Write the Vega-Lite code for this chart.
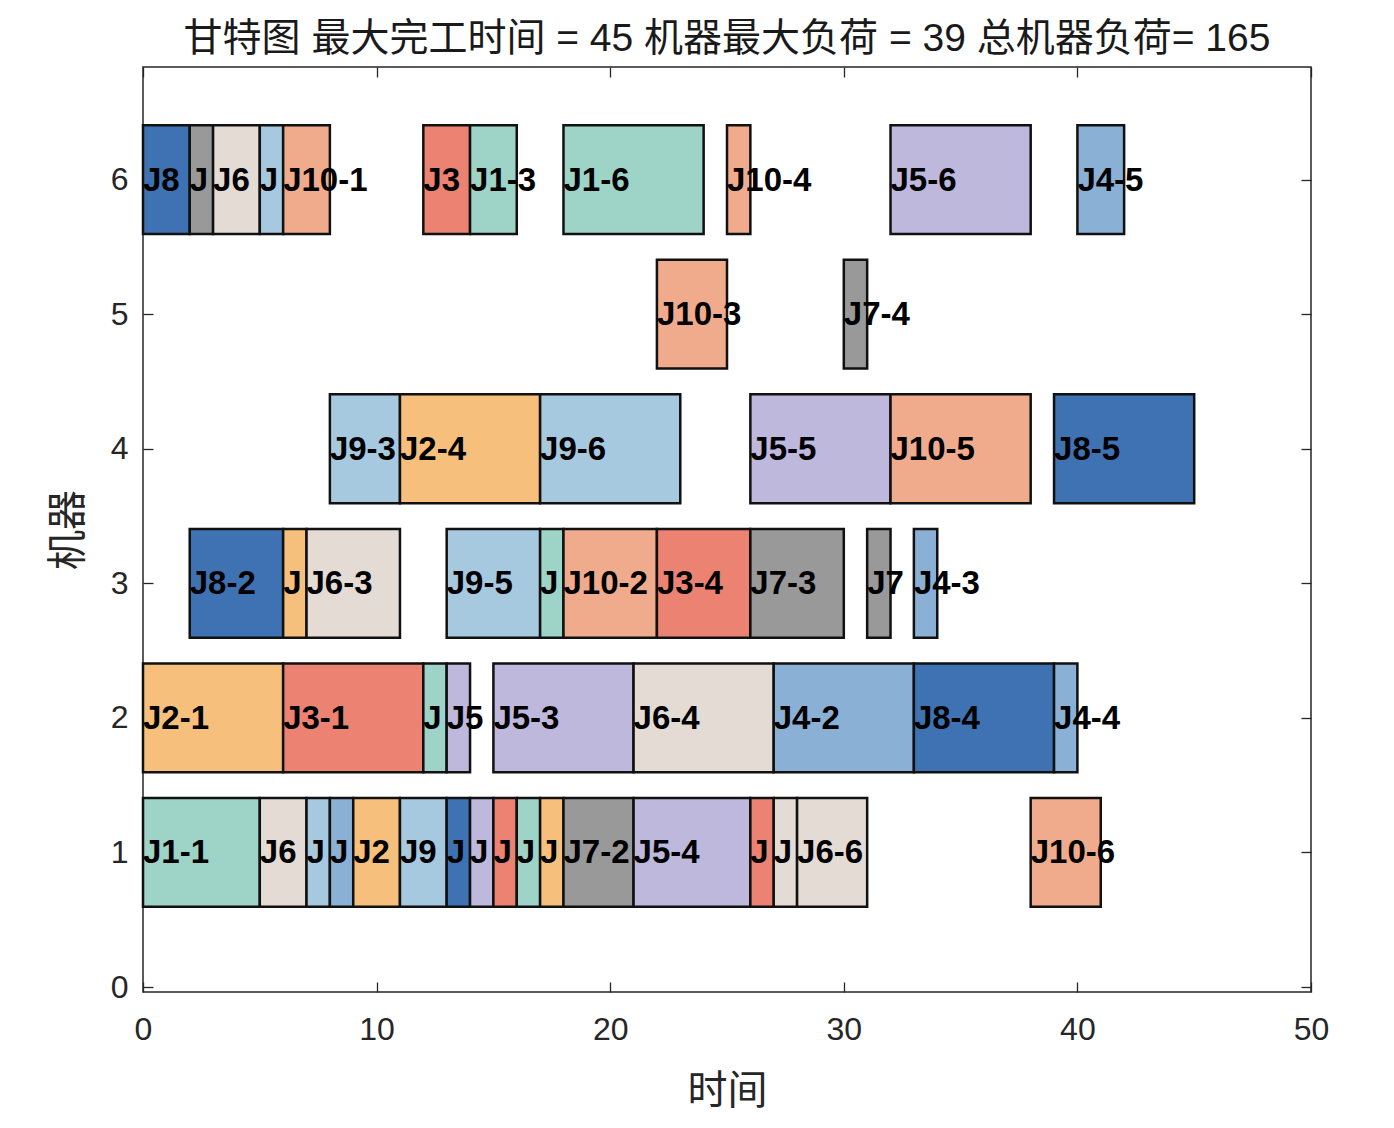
{
  "$schema": "https://vega.github.io/schema/vega-lite/v6.json",
  "autosize": {"type": "none"},
  "width": 1168,
  "height": 925,
  "padding": {"left": 143, "top": 67, "right": 83, "bottom": 136},
  "background": "white",
  "view": {"stroke": "#262626", "strokeWidth": 1.5},
  "title": {
    "text": "甘特图 最大完工时间 = 45 机器最大负荷 = 39 总机器负荷= 165",
    "font": "Liberation Sans, Noto Sans CJK SC",
    "fontSize": 39,
    "fontWeight": "normal",
    "color": "#1a1a1a",
    "anchor": "middle",
    "offset": 7
  },
  "data": {
    "values": [
      {"machine": 1, "start": 0, "end": 5, "job": "J1", "op": "J1-1"},
      {"machine": 1, "start": 5, "end": 7, "job": "J6", "op": "J6-2"},
      {"machine": 1, "start": 7, "end": 8, "job": "J9", "op": "J9-2"},
      {"machine": 1, "start": 8, "end": 9, "job": "J4", "op": "J4-1"},
      {"machine": 1, "start": 9, "end": 11, "job": "J2", "op": "J2-3"},
      {"machine": 1, "start": 11, "end": 13, "job": "J9", "op": "J9-4"},
      {"machine": 1, "start": 13, "end": 14, "job": "J8", "op": "J8-3"},
      {"machine": 1, "start": 14, "end": 15, "job": "J5", "op": "J5-2"},
      {"machine": 1, "start": 15, "end": 16, "job": "J3", "op": "J3-3"},
      {"machine": 1, "start": 16, "end": 17, "job": "J1", "op": "J1-4"},
      {"machine": 1, "start": 17, "end": 18, "job": "J2", "op": "J2-5"},
      {"machine": 1, "start": 18, "end": 21, "job": "J7", "op": "J7-2"},
      {"machine": 1, "start": 21, "end": 26, "job": "J5", "op": "J5-4"},
      {"machine": 1, "start": 26, "end": 27, "job": "J3", "op": "J3-5"},
      {"machine": 1, "start": 27, "end": 28, "job": "J6", "op": "J6-5"},
      {"machine": 1, "start": 28, "end": 31, "job": "J6", "op": "J6-6"},
      {"machine": 1, "start": 38, "end": 41, "job": "J10", "op": "J10-6"},
      {"machine": 2, "start": 0, "end": 6, "job": "J2", "op": "J2-1"},
      {"machine": 2, "start": 6, "end": 12, "job": "J3", "op": "J3-1"},
      {"machine": 2, "start": 12, "end": 13, "job": "J1", "op": "J1-2"},
      {"machine": 2, "start": 13, "end": 14, "job": "J5", "op": "J5-1"},
      {"machine": 2, "start": 15, "end": 21, "job": "J5", "op": "J5-3"},
      {"machine": 2, "start": 21, "end": 27, "job": "J6", "op": "J6-4"},
      {"machine": 2, "start": 27, "end": 33, "job": "J4", "op": "J4-2"},
      {"machine": 2, "start": 33, "end": 39, "job": "J8", "op": "J8-4"},
      {"machine": 2, "start": 39, "end": 40, "job": "J4", "op": "J4-4"},
      {"machine": 3, "start": 2, "end": 6, "job": "J8", "op": "J8-2"},
      {"machine": 3, "start": 6, "end": 7, "job": "J2", "op": "J2-2"},
      {"machine": 3, "start": 7, "end": 11, "job": "J6", "op": "J6-3"},
      {"machine": 3, "start": 13, "end": 17, "job": "J9", "op": "J9-5"},
      {"machine": 3, "start": 17, "end": 18, "job": "J1", "op": "J1-5"},
      {"machine": 3, "start": 18, "end": 22, "job": "J10", "op": "J10-2"},
      {"machine": 3, "start": 22, "end": 26, "job": "J3", "op": "J3-4"},
      {"machine": 3, "start": 26, "end": 30, "job": "J7", "op": "J7-3"},
      {"machine": 3, "start": 31, "end": 32, "job": "J7", "op": "J7-5"},
      {"machine": 3, "start": 33, "end": 34, "job": "J4", "op": "J4-3"},
      {"machine": 4, "start": 8, "end": 11, "job": "J9", "op": "J9-3"},
      {"machine": 4, "start": 11, "end": 17, "job": "J2", "op": "J2-4"},
      {"machine": 4, "start": 17, "end": 23, "job": "J9", "op": "J9-6"},
      {"machine": 4, "start": 26, "end": 32, "job": "J5", "op": "J5-5"},
      {"machine": 4, "start": 32, "end": 38, "job": "J10", "op": "J10-5"},
      {"machine": 4, "start": 39, "end": 45, "job": "J8", "op": "J8-5"},
      {"machine": 5, "start": 22, "end": 25, "job": "J10", "op": "J10-3"},
      {"machine": 5, "start": 30, "end": 31, "job": "J7", "op": "J7-4"},
      {"machine": 6, "start": 0, "end": 2, "job": "J8", "op": "J8-1"},
      {"machine": 6, "start": 2, "end": 3, "job": "J7", "op": "J7-1"},
      {"machine": 6, "start": 3, "end": 5, "job": "J6", "op": "J6-1"},
      {"machine": 6, "start": 5, "end": 6, "job": "J9", "op": "J9-1"},
      {"machine": 6, "start": 6, "end": 8, "job": "J10", "op": "J10-1"},
      {"machine": 6, "start": 12, "end": 14, "job": "J3", "op": "J3-2"},
      {"machine": 6, "start": 14, "end": 16, "job": "J1", "op": "J1-3"},
      {"machine": 6, "start": 18, "end": 24, "job": "J1", "op": "J1-6"},
      {"machine": 6, "start": 25, "end": 26, "job": "J10", "op": "J10-4"},
      {"machine": 6, "start": 32, "end": 38, "job": "J5", "op": "J5-6"},
      {"machine": 6, "start": 40, "end": 42, "job": "J4", "op": "J4-5"}
    ]
  },
  "transform": [
    {
      "window": [{"op": "lead", "field": "start", "as": "next_start"}],
      "groupby": ["machine"],
      "sort": [{"field": "start", "order": "ascending"}]
    }
  ],
  "resolve": {"axis": {"x": "independent", "y": "independent"}},
  "layer": [
    {
      "mark": {"type": "bar", "orient": "horizontal", "size": 108.8, "stroke": "#111111", "strokeWidth": 2.5, "opacity": 1},
      "encoding": {
        "x": {
          "field": "start", "type": "quantitative",
          "scale": {"domain": [0, 50], "nice": false, "zero": false},
          "axis": {
            "orient": "bottom", "values": [0, 10, 20, 30, 40, 50],
            "title": "时间", "titleFont": "Noto Sans CJK SC", "titleFontSize": 40, "titleFontWeight": "normal",
            "titleColor": "#262626", "titlePadding": 26,
            "labelFont": "Liberation Sans", "labelFontSize": 32, "labelColor": "#262626", "labelPadding": 32,
            "labelFlush": false,
            "domain": false, "grid": false, "ticks": true, "tickSize": -10, "tickColor": "#262626", "tickWidth": 1.3
          }
        },
        "x2": {"field": "end"},
        "y": {
          "field": "machine", "type": "quantitative",
          "scale": {"domain": [0, 6.8], "nice": false, "zero": false},
          "axis": {
            "orient": "left", "values": [0, 1, 2, 3, 4, 5, 6],
            "title": "机器", "titleFont": "Noto Sans CJK SC", "titleFontSize": 40, "titleFontWeight": "normal",
            "titleColor": "#262626", "titlePadding": 22,
            "labelFont": "Liberation Sans", "labelFontSize": 32, "labelColor": "#262626", "labelPadding": 25,
            "labelFlush": false,
            "domain": false, "grid": false, "ticks": true, "tickSize": -10, "tickColor": "#262626", "tickWidth": 1.3
          }
        },
        "color": {
          "field": "job", "type": "nominal",
          "scale": {
            "domain": ["J1", "J2", "J3", "J4", "J5", "J6", "J7", "J8", "J9", "J10"],
            "range": ["#9ed3c7", "#f6c07c", "#ec8271", "#8bb0d6", "#bdb8dc", "#e5dbd5", "#999999", "#3f72b2", "#a7c9df", "#efab8b"]
          },
          "legend": null
        }
      }
    },
    {
      "mark": {
        "type": "text", "align": "left", "baseline": "middle", "dx": 0, "dy": 1,
        "font": "Liberation Sans", "fontSize": 33, "fontWeight": "bold", "color": "#000000",
        "ellipsis": "\u200b",
        "limit": {"expr": "isValid(datum.next_start) ? scale('x', datum.next_start) - scale('x', datum.start) : 0"}
      },
      "encoding": {
        "x": {
          "field": "start", "type": "quantitative",
          "scale": {"domain": [0, 50], "nice": false, "zero": false},
          "axis": {
            "orient": "top", "values": [0, 10, 20, 30, 40, 50], "title": null, "labels": false,
            "domain": false, "grid": false, "ticks": true, "tickSize": -10, "tickColor": "#262626", "tickWidth": 1.3
          }
        },
        "y": {
          "field": "machine", "type": "quantitative",
          "scale": {"domain": [0, 6.8], "nice": false, "zero": false},
          "axis": {
            "orient": "right", "values": [0, 1, 2, 3, 4, 5, 6], "title": null, "labels": false,
            "domain": false, "grid": false, "ticks": true, "tickSize": -10, "tickColor": "#262626", "tickWidth": 1.3
          }
        },
        "text": {"field": "op"}
      }
    }
  ]
}
